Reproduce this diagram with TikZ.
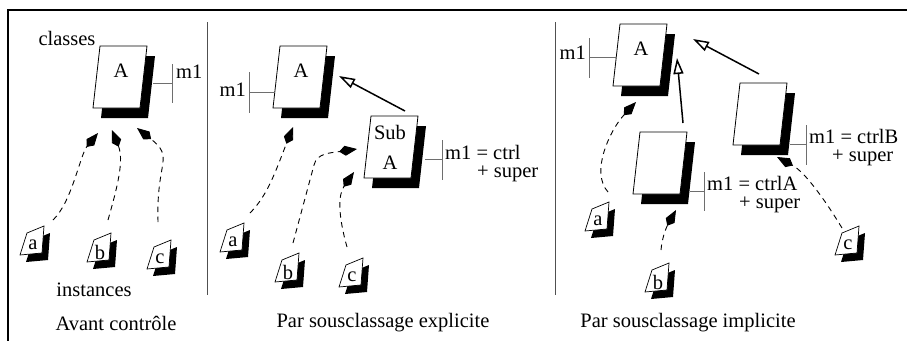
\documentclass[tikz,border=0pt]{standalone}
\usepackage{fontspec}
\setmainfont{Liberation Serif}
\usetikzlibrary{arrows.meta,calc}
\definecolor{tickgray}{RGB}{110,110,110}
\definecolor{divgray}{RGB}{80,80,80}
\begin{document}
\begin{tikzpicture}[x=1pt,y=-1pt,
  txt/.style={font=\fontsize{20.5}{18.5}\selectfont, inner sep=0pt},
  tick/.style={draw=tickgray, line width=1pt},
  divider/.style={draw=divgray, line width=0.9pt},
  frameline/.style={draw=black, line width=2.2pt},
  dasharrow/.style={dash pattern=on 5.5pt off 4.5pt, line width=0.9pt, -{Kite[length=18pt,width=10pt,inset=6pt]}},
  inherit/.style={line width=1.5pt, -{Triangle[open,length=16pt,width=10pt,line width=1.5pt]}},
  clsbox/.pic={
    \fill[black] (-12,-21) -- (35,-21) -- (28,41) -- (-19,41) -- cycle;
    \draw[fill=white, line width=0.8pt] (-20,-31) -- (27,-31) -- (20,31) -- (-27,31) -- cycle;
    \node[txt] (-l) at (1,-6) {#1};
  },
  inst/.pic={
    \fill[black] (-7,17) -- (0,-5) -- (17,-12) -- (15,15) -- cycle;
    \draw[fill=white, line width=0.7pt] (-13,10) -- (-6,-12) -- (11,-19) -- (9,8) -- cycle;
    \node[txt] (-l) at (0,0) {#1};
  }]
\useasboundingbox (0,0) rectangle (907,341);
% frame and dividers
\draw[frameline] (907,10) -- (8,10) -- (8,341);
\draw[divider] (207,22) -- (207,295);
\draw[divider] (555,22) -- (555,295);

% ---------- Panel 1 ----------
\node[txt] (classes) at (67,38) {classes};
\pic (A1) at (120,77) {clsbox=A};
\draw[tick] (153,83) -- (172,83) (172,64) -- (172,103);
\node[txt, anchor=west] (m1a) at (176,72) {m1};
\pic (a1) at (33,245) {inst=a};
\pic (b1) at (100,252) {inst=b};
\pic (c1) at (160,259) {inst=c};
\node[txt] (instances) at (94,290) {instances};
\node[txt] (t1) at (116,323) {Avant contrôle};
\draw[dasharrow] ($(a1-l)+(20,-25)$) .. controls (72,202) and (80,155) .. ($(A1-l)+(-23,62)$);
\draw[dasharrow] ($(b1-l)+(8,-32)$) .. controls (118,185) and (124,160) .. ($(A1-l)+(-9,59)$);
\draw[dasharrow] ($(c1-l)+(-2,-37)$) .. controls (156,160) and (175,158) .. ($(A1-l)+(16,57)$);

% ---------- Panel 2 ----------
\pic (A2) at (300,77) {clsbox=A};
\draw[tick] (249,92) -- (275,92) (249,72) -- (249,113);
\node[txt, anchor=east] (m1b) at (246,90) {m1};
\pic (S2) at (391,147) {clsbox=};
\node[txt] (sub) at (390,132) {Sub};
\node[txt] (subA) at (390,163) {A};
\draw[tick] (425,159) -- (442,159) (442,140) -- (442,180);
\node[txt, anchor=north west, align=left] (m1c) at (445,145) {m1 = ctrl\\\hspace*{32pt}+ super};
\pic (a2) at (233,242) {inst=a};
\pic (b2) at (288,272) {inst=b};
\pic (c2) at (352,277) {inst=c};
\node[txt] (t2) at (383,323) {Par sousclassage explicite};
\draw[inherit] ($(sub)+(15,-21)$) -- ($(A2-l)+(38,5)$);
\draw[dasharrow] ($(a2-l)+(17,-29)$) .. controls (268,195) and (276,170) .. ($(A2-l)+(-8,56)$);
\draw[dasharrow] ($(b2-l)+(5,-29)$) -- (314,165) .. controls (317,153) and (330,153) .. ($(sub)+(-33,17)$);
\draw[dasharrow] ($(c2-l)+(-5,-30)$) .. controls (338,215) and (338,195) .. ($(subA)+(-36,9)$);

% ---------- Panel 3 ----------
\pic (A3) at (640,55) {clsbox=A};
\draw[tick] (589,57) -- (617,57) (589,38) -- (589,78);
\node[txt, anchor=east] (m1d) at (586,53) {m1};
\pic (CA) at (660,163) {clsbox=};
\draw[tick] (690,191) -- (704,191) (704,172) -- (704,211);
\node[txt, anchor=north west, align=left] (m1e) at (707,176) {m1 = ctrlA\\\hspace*{32pt}+ super};
\pic (CB) at (760,114) {clsbox=};
\draw[tick] (790,144) -- (806,144) (806,125) -- (806,165);
\node[txt, anchor=north west, align=left] (m1f) at (809,129) {m1 = ctrlB\\\hspace*{23pt}+ super};
\pic (a3) at (598,221) {inst=a};
\pic (b3) at (658,282) {inst=b};
\pic (c3) at (848,245) {inst=c};
\node[txt] (t3) at (688,323) {Par sousclassage implicite};
\draw[inherit] ($(CA-l)+(22,-34)$) -- ($(A3-l)+(36,9)$);
\draw[inherit] ($(CB-l)+(-2,-34)$) -- ($(A3-l)+(52,-10)$);
\draw[dasharrow] ($(a3-l)+(10,-29)$) .. controls (590,172) and (610,130) .. ($(A3-l)+(-5,53)$);
\draw[dasharrow] ($(b3-l)+(3,-32)$) .. controls (662,238) and (666,228) .. ($(CA-l)+(15,53)$);
\draw[dasharrow] ($(c3-l)+(-6,-17)$) .. controls (825,200) and (805,172) .. ($(CB-l)+(16,49)$);
\end{tikzpicture}
\end{document}
